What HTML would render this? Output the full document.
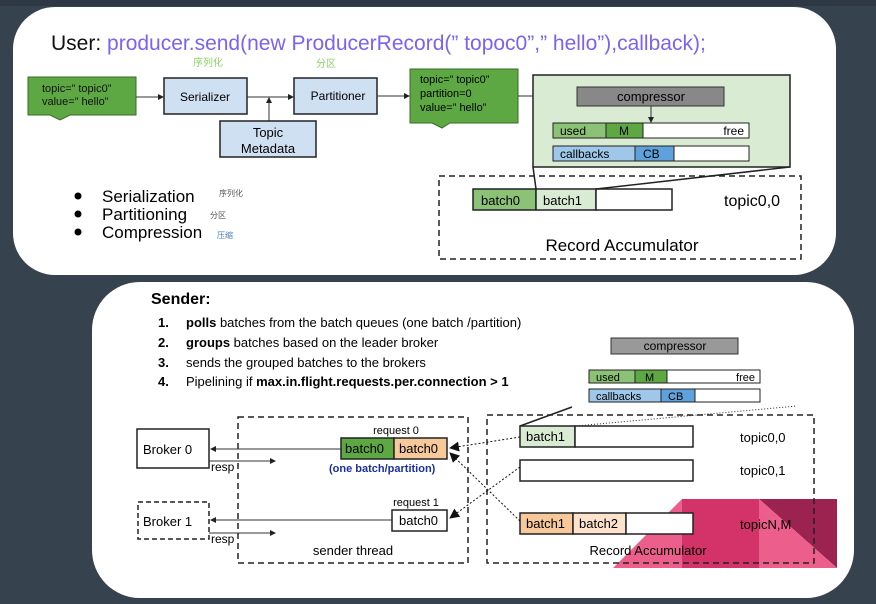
<!DOCTYPE html>
<html><head><meta charset="utf-8"><style>
html,body{margin:0;padding:0;background:#37424f;}
svg{display:block;font-family:"Liberation Sans","Noto Sans CJK SC",sans-serif;}
</style></head><body>
<svg width="876" height="604" viewBox="0 0 876 604" xmlns="http://www.w3.org/2000/svg">
<defs>
<marker id="a" markerWidth="6" markerHeight="6" refX="5" refY="3" orient="auto"><path d="M0,0 L6,3 L0,6z" fill="#222"/></marker>
<marker id="b" markerWidth="10" markerHeight="10" refX="9" refY="5" orient="auto"><path d="M0,0 L10,5 L0,10z" fill="#111"/></marker>
</defs>
<rect width="876" height="604" fill="#37424f"/>
<rect x="0" y="0" width="876" height="6" fill="#2e3844"/>
<!-- top card -->
<rect x="13" y="7" width="823" height="268" rx="42" fill="#fff"/>
<text x="51" y="50" font-size="21" fill="#111">User: <tspan fill="#7b63f0">producer.send(new ProducerRecord(” topoc0”,” hello”),callback);</tspan></text>
<text x="193" y="66" font-size="10" fill="#8fd16a">序列化</text>
<text x="316" y="67" font-size="10" fill="#8fd16a">分区</text>
<!-- green note 1 -->
<path d="M28,77 H136 V115 H70 L60,120 L50,115 H28z" fill="#5ea843" stroke="#3a6a2a"/>
<text x="42" y="92" font-size="11" fill="#111">topic=” topic0”</text>
<text x="42" y="105" font-size="11" fill="#111">value=” hello”</text>
<line x1="136" y1="97" x2="163" y2="97" stroke="#333" marker-end="url(#a)"/>
<rect x="164" y="78" width="83" height="36" fill="#cfe0f3" stroke="#222" stroke-width="1.5"/>
<text x="205" y="101" font-size="12" text-anchor="middle">Serializer</text>
<line x1="247" y1="97" x2="293" y2="97" stroke="#333" marker-end="url(#a)"/>
<line x1="269" y1="121" x2="269" y2="98" stroke="#333" marker-end="url(#a)"/>
<rect x="220" y="121" width="96" height="36" fill="#cfe0f3" stroke="#222" stroke-width="1.5"/>
<text x="268" y="137" font-size="13" text-anchor="middle">Topic</text>
<text x="268" y="153" font-size="13" text-anchor="middle">Metadata</text>
<rect x="294" y="78" width="83" height="36" fill="#cfe0f3" stroke="#222" stroke-width="1.5"/>
<text x="338" y="100" font-size="12" text-anchor="middle">Partitioner</text>
<line x1="377" y1="96" x2="409" y2="96" stroke="#333" marker-end="url(#a)"/>
<path d="M410,69 H518 V123 H450 L442,128 L432,123 H410z" fill="#5ea843" stroke="#3a6a2a"/>
<text x="420" y="83" font-size="11">topic=” topic0”</text>
<text x="420" y="97" font-size="11">partition=0</text>
<text x="420" y="111" font-size="11">value=” hello”</text>
<line x1="518" y1="96" x2="575" y2="96" stroke="#333" marker-end="url(#a)"/>
<rect x="533" y="75" width="257" height="92" fill="#d9ebd3" stroke="#222" stroke-width="1.5"/>
<rect x="577" y="87" width="147" height="19" fill="#888" stroke="#333"/>
<text x="651" y="101" font-size="13" text-anchor="middle">compressor</text>
<line x1="651" y1="106" x2="651" y2="122" stroke="#333" marker-end="url(#a)"/>
<rect x="553" y="123" width="53" height="15" fill="#8cc276" stroke="#222"/>
<rect x="606" y="123" width="37" height="15" fill="#5ea843" stroke="#222"/>
<rect x="643" y="123" width="106" height="15" fill="#fff" stroke="#222"/>
<text x="560" y="135" font-size="12">used</text><text x="619" y="135" font-size="12">M</text><text x="744" y="135" font-size="12" text-anchor="end">free</text>
<rect x="553" y="146" width="82" height="15" fill="#9ec7ea" stroke="#222"/>
<rect x="635" y="146" width="39" height="15" fill="#5fa2db" stroke="#222"/>
<rect x="674" y="146" width="75" height="15" fill="#fff" stroke="#222"/>
<text x="560" y="158" font-size="12">callbacks</text><text x="643" y="158" font-size="12">CB</text>
<rect x="439" y="176" width="362" height="83" fill="none" stroke="#222" stroke-width="1.5" stroke-dasharray="6,4"/>
<rect x="473" y="189" width="63" height="21" fill="#8cc276" stroke="#222" stroke-width="1.5"/>
<rect x="536" y="189" width="60" height="21" fill="#d9ebd3" stroke="#222" stroke-width="1.5"/>
<rect x="596" y="189" width="76" height="21" fill="#fff" stroke="#222" stroke-width="1.5"/>
<text x="481" y="205" font-size="13">batch0</text><text x="543" y="205" font-size="13">batch1</text>
<line x1="536" y1="189" x2="533" y2="167" stroke="#222" stroke-width="1.5"/>
<line x1="596" y1="189" x2="790" y2="167" stroke="#222" stroke-width="1.5"/>
<text x="724" y="206" font-size="16">topic0,0</text>
<text x="622" y="251" font-size="17" text-anchor="middle">Record Accumulator</text>
<g font-size="17"><circle cx="78" cy="196" r="3.5"/><circle cx="78" cy="214" r="3.5"/><circle cx="78" cy="232" r="3.5"/>
<text x="102" y="202">Serialization</text><text x="102" y="220">Partitioning</text><text x="102" y="238">Compression</text></g>
<text x="219" y="196" font-size="8" fill="#555">序列化</text>
<text x="210" y="218" font-size="8" fill="#555">分区</text>
<text x="217" y="238" font-size="8" fill="#4a7ab0">压缩</text>
<!-- bottom card -->
<rect x="92" y="282" width="762" height="316" rx="48" fill="#fff"/>
<text x="151" y="304" font-size="16" font-weight="bold">Sender:</text>
<g font-size="13">
<text x="158" y="327" font-weight="bold">1.</text><text x="186" y="327"><tspan font-weight="bold">polls</tspan> batches from the batch queues  (one batch /partition)</text>
<text x="158" y="347" font-weight="bold">2.</text><text x="186" y="347"><tspan font-weight="bold">groups</tspan> batches  based on the leader broker</text>
<text x="158" y="367" font-weight="bold">3.</text><text x="186" y="367">sends the grouped batches to the brokers</text>
<text x="158" y="386" font-weight="bold">4.</text><text x="186" y="386">Pipelining if <tspan font-weight="bold">max.in.flight.requests.per.connection &gt; 1</tspan></text>
</g>
<rect x="137" y="429" width="72" height="39" fill="#fff" stroke="#222" stroke-width="1.5"/>
<text x="143" y="454" font-size="13">Broker 0</text>
<rect x="138" y="502" width="71" height="37" fill="#fff" stroke="#222" stroke-width="1.5" stroke-dasharray="5,3"/>
<text x="143" y="526" font-size="13">Broker 1</text>
<rect x="238" y="417" width="230" height="146" fill="none" stroke="#222" stroke-width="1.5" stroke-dasharray="6,4"/>
<line x1="341" y1="449" x2="211" y2="449" stroke="#333" marker-end="url(#a)"/>
<line x1="209" y1="461" x2="275" y2="461" stroke="#333" marker-end="url(#a)"/>
<text x="211" y="471" font-size="12">resp</text>
<line x1="392" y1="520" x2="211" y2="520" stroke="#333" marker-end="url(#a)"/>
<line x1="209" y1="533" x2="275" y2="533" stroke="#333" marker-end="url(#a)"/>
<text x="211" y="543" font-size="12">resp</text>
<text x="396" y="434" font-size="11" text-anchor="middle">request 0</text>
<rect x="341" y="438" width="53" height="21" fill="#5ea843" stroke="#222" stroke-width="1.5"/>
<rect x="394" y="438" width="53" height="21" fill="#f6c89a" stroke="#222" stroke-width="1.5"/>
<text x="345" y="453" font-size="13">batch0</text><text x="399" y="453" font-size="13">batch0</text>
<text x="329" y="472" font-size="11" font-weight="bold" fill="#1a2fa0">(one batch/partition)</text>
<text x="416" y="506" font-size="11" text-anchor="middle">request 1</text>
<rect x="392" y="510" width="55" height="21" fill="#fff" stroke="#222" stroke-width="1.5"/>
<text x="399" y="525" font-size="13">batch0</text>
<text x="353" y="555" font-size="13" text-anchor="middle">sender thread</text>
<!-- pink -->
<polygon points="613,568 682,499 682,568" fill="#ec5f8c"/>
<rect x="682" y="499" width="77" height="69" fill="#d4336a"/>
<polygon points="759,499 837,499 837,568" fill="#9c2250"/>
<polygon points="759,499 837,568 759,568" fill="#ec5f8c"/>
<rect x="487" y="415" width="327" height="148" fill="none" stroke="#222" stroke-width="1.5" stroke-dasharray="6,4"/>
<rect x="611" y="338" width="127" height="16" fill="#999" stroke="#333"/>
<text x="675" y="350" font-size="12" text-anchor="middle">compressor</text>
<rect x="589" y="370" width="46" height="13" fill="#8cc276" stroke="#222"/><rect x="635" y="370" width="32" height="13" fill="#5ea843" stroke="#222"/><rect x="667" y="370" width="93" height="13" fill="#fff" stroke="#222"/>
<text x="596" y="381" font-size="11">used</text><text x="645" y="381" font-size="11">M</text><text x="755" y="381" font-size="11" text-anchor="end">free</text>
<rect x="589" y="389" width="72" height="13" fill="#9ec7ea" stroke="#222"/><rect x="661" y="389" width="34" height="13" fill="#5fa2db" stroke="#222"/><rect x="695" y="389" width="65" height="13" fill="#fff" stroke="#222"/>
<text x="596" y="400" font-size="11">callbacks</text><text x="668" y="400" font-size="11">CB</text>
<line x1="520" y1="426" x2="572" y2="407" stroke="#222" stroke-width="1.5"/>
<line x1="576" y1="426" x2="797" y2="406" stroke="#222" stroke-dasharray="1,2"/>
<rect x="520" y="426" width="55" height="21" fill="#d9ebd3" stroke="#222" stroke-width="1.5"/>
<rect x="575" y="426" width="118" height="21" fill="#fff" stroke="#222" stroke-width="1.5"/>
<text x="526" y="441" font-size="13">batch1</text>
<rect x="520" y="460" width="173" height="21" fill="#fff" stroke="#222" stroke-width="1.5"/>
<rect x="520" y="513" width="53" height="21" fill="#f6c89a" stroke="#222" stroke-width="1.5"/>
<rect x="573" y="513" width="53" height="21" fill="#fde3cc" stroke="#222" stroke-width="1.5"/>
<rect x="626" y="513" width="67" height="21" fill="#fff" stroke="#222" stroke-width="1.5"/>
<text x="526" y="528" font-size="13">batch1</text><text x="579" y="528" font-size="13">batch2</text>
<text x="740" y="442" font-size="13">topic0,0</text>
<text x="740" y="475" font-size="13">topic0,1</text>
<text x="740" y="529" font-size="13">topicN,M</text>
<text x="648" y="555" font-size="13" text-anchor="middle">Record Accumulator</text>
<line x1="520" y1="437" x2="450" y2="448" stroke="#111" stroke-dasharray="2,2" marker-end="url(#b)"/>
<line x1="520" y1="521" x2="450" y2="453" stroke="#111" stroke-dasharray="2,2" marker-end="url(#b)"/>
<line x1="520" y1="467" x2="450" y2="518" stroke="#111" stroke-dasharray="2,2" marker-end="url(#b)"/>
</svg>
</body></html>
